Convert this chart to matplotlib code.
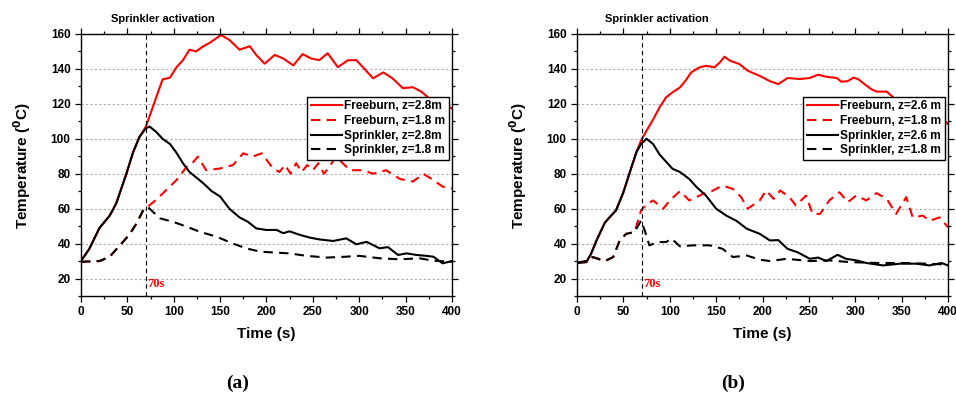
import matplotlib.pyplot as plt
from matplotlib.ticker import MultipleLocator

# ---- panel (a) data ----
a_fb_hi_t = [0, 9, 20, 31, 38, 49, 56, 63, 70, 80, 88, 96, 103, 110, 117, 124, 132, 139, 151, 160,
             171, 182, 189, 198, 209, 218, 229, 239, 248, 257, 266, 277, 288, 297, 304, 315, 326,
             336, 347, 358, 367, 376, 385, 393, 400]
a_fb_hi = [30, 37, 49, 56, 63, 80, 92, 101, 107, 122, 134, 135, 141, 145, 151, 150, 153, 155, 159.4, 156.6,
           151, 153, 148, 143, 148, 146, 142, 148.5, 146, 145, 149, 141, 145, 145, 141, 134.6, 138,
           134.6, 129, 129.5, 127, 123, 121, 119, 117.4]

a_fb_lo_t = [0, 20, 31, 42, 52, 60, 67, 74, 81, 92, 103, 114, 120, 126, 135, 150, 164, 175, 185, 195, 207,
             214, 220, 226, 232, 238, 244, 250, 256, 262, 268, 275, 290, 304, 315, 329, 344, 358, 369,
             380, 390, 400]
a_fb_lo = [29.6, 30, 32.5, 39, 45, 51.6, 59, 62, 65, 70.7, 76.4, 84, 86, 89.8, 82, 83, 85, 91.7, 89.8, 91.7, 83,
           81, 85, 80, 86, 81, 85, 82, 86, 80, 84, 89.8, 82, 82, 80, 82, 77, 75.5, 80,
           76.4, 72.6, 71.6]

a_sp_hi_t = [0, 9, 20, 31, 38, 49, 56, 63, 70, 74, 81, 88, 96, 103, 110, 117, 124, 132, 141, 150, 160,
             171, 180, 189, 200, 211, 218, 225, 236, 247, 257, 272, 286, 297, 308, 322, 331, 342, 351,
             362, 372, 380, 390, 400]
a_sp_hi = [30, 37, 49, 56, 63, 80, 92, 101, 106, 107, 104, 100, 97, 92, 86, 81, 78, 74.5, 70, 67, 60,
           55, 52.5, 48.7, 47.8, 47.8, 46, 47, 45, 43.4, 42.4, 41.5, 43, 39.6, 41, 37.3, 38, 33.5, 34.4,
           33.5, 33, 32.5, 28.7, 30]

a_sp_lo_t = [0, 20, 31, 42, 52, 60, 67, 72, 85, 99, 114, 128, 146, 164, 178, 193, 211, 225, 243, 265,
             286, 300, 322, 344, 365, 380, 400]
a_sp_lo = [29.6, 30, 32.5, 39, 45, 51.6, 59, 61, 54.5, 52.5, 49.7, 46.8, 44, 40, 37.3, 35.4, 34.8, 34.4, 33, 32,
           32.5, 33, 31.6, 31, 31.6, 30.2, 29.6]

# ---- panel (b) data ----
b_fb_hi_t = [0, 10, 15, 21, 30, 35, 42, 50, 57, 64, 69, 75, 82, 89, 96, 103, 111, 118, 123, 132, 139, 148,
             154, 159, 165, 175, 184, 197, 208, 217, 227, 240, 251, 260, 269, 280, 285, 292, 298, 303,
             310, 317, 323, 334, 341, 346, 360, 380, 395, 400]
b_fb_hi = [29, 29.4, 34, 41.8, 52, 55, 59, 69.4, 81, 92.3, 99, 104.7, 111, 118, 123.7, 126.6, 129.4, 134, 138,
           140.9, 141.8, 140.9, 143.7, 147, 144.7, 142.8, 139, 136, 133, 131.3, 134.8, 134.2, 134.8, 136.7,
           135.5, 134.8, 132.7, 133, 135, 134.2, 131.3, 128.5, 127, 127, 123.7, 121, 117, 113, 111, 108.5]

b_fb_lo_t = [0, 10, 17, 30, 39, 46, 53, 62, 69, 75, 82, 93, 100, 111, 121, 136, 143, 157, 168, 177, 184, 197,
             204, 212, 219, 229, 236, 247, 254, 262, 272, 283, 292, 301, 312, 323, 334, 344, 355, 362,
             373, 380, 391, 400]
b_fb_lo = [29, 30, 32.3, 30, 32.3, 41.8, 45.6, 46.6, 59, 62.4, 64.7, 60, 64.7, 70, 64.7, 68.5, 69.4, 73.2,
           71.3, 66.6, 60, 64.7, 70.4, 65.6, 70.4, 66.6, 61.8, 67.5, 57, 57, 64.7, 69.4, 63.7, 67.5, 64.7,
           68.9, 65.6, 57, 66.6, 55, 56, 53, 55, 49.4]

b_sp_hi_t = [0, 10, 15, 21, 30, 35, 42, 50, 57, 64, 69, 75, 82, 89, 95, 103, 111, 121, 129, 139, 150, 161,
             172, 183, 197, 208, 217, 227, 238, 251, 260, 269, 281, 290, 301, 312, 330, 348, 366, 380,
             393, 400]
b_sp_hi = [29, 29.4, 34, 41.8, 52, 55, 59, 69.4, 81, 92.3, 97, 100, 97, 91, 87.5, 82.8, 81, 77, 72.3, 67.5,
           60, 56, 53, 48.5, 45.6, 41.8, 42, 37, 35, 31.3, 32, 30, 33.6, 31.3, 30.4, 28.9, 27.5, 28.5,
           28.5, 27.5, 28.9, 27.5]

b_sp_lo_t = [0, 10, 17, 30, 39, 46, 53, 62, 69, 73, 78, 87, 96, 102, 111, 125, 143, 157, 168, 183, 197, 208,
             226, 251, 272, 294, 323, 351, 377, 400]
b_sp_lo = [29, 30, 32.3, 30, 32.3, 41.8, 45.6, 46.6, 53.2, 47.5, 39, 40.9, 40.9, 42.8, 38.4, 39, 39, 37,
           32.3, 33.2, 30.8, 30, 31.3, 30, 30.4, 29.4, 28.9, 28.9, 28.5, 28]

labels_a = ['Freeburn, z=2.8m', 'Freeburn, z=1.8 m', 'Sprinkler, z=2.8m', 'Sprinkler, z=1.8 m']
labels_b = ['Freeburn, z=2.6 m', 'Freeburn, z=1.8 m', 'Sprinkler, z=2.6 m', 'Sprinkler, z=1.8 m']

plt.rcParams['font.family'] = ['Liberation Sans', 'DejaVu Sans']
plt.rcParams['font.weight'] = 'bold'

fig = plt.figure(figsize=(9.56, 3.97), dpi=100)
ax_a = fig.add_axes([0.0847, 0.2544, 0.388, 0.66])
ax_b = fig.add_axes([0.6036, 0.2544, 0.388, 0.66])

panels = [
    (ax_a, [(a_fb_hi_t, a_fb_hi), (a_fb_lo_t, a_fb_lo), (a_sp_hi_t, a_sp_hi), (a_sp_lo_t, a_sp_lo)],
     labels_a, 88, '(a)', 0.248),
    (ax_b, [(b_fb_hi_t, b_fb_hi), (b_fb_lo_t, b_fb_lo), (b_sp_hi_t, b_sp_hi), (b_sp_lo_t, b_sp_lo)],
     labels_b, 86, '(b)', 0.767),
]
styles = [('red', '-'), ('red', '--'), ('black', '-'), ('black', '--')]

for ax, series, labels, title_x, tag, tag_x in panels:
    for (t, y), (c, ls), lab in zip(series, styles, labels):
        line, = ax.plot(t, y, color=c, lw=1.5, label=lab, linestyle=ls)
        if ls == '--':
            line.set_dashes((4.5, 3))
    ax.axvline(70, color='black', lw=0.8, linestyle=(0, (4, 3)))
    ax.set_xlim(0, 400)
    ax.set_ylim(10, 160)
    ax.xaxis.set_major_locator(MultipleLocator(50))
    ax.xaxis.set_minor_locator(MultipleLocator(25))
    ax.yaxis.set_major_locator(MultipleLocator(20))
    ax.yaxis.set_minor_locator(MultipleLocator(10))
    ax.set_yticks(range(20, 161, 20))
    ax.tick_params(which='both', direction='out', top=True, right=True, labelsize=8.5, width=0.9)
    ax.tick_params(which='major', length=4)
    ax.tick_params(which='minor', length=2.5)
    for lab in ax.get_xticklabels() + ax.get_yticklabels():
        lab.set_fontweight('bold')
    ax.grid(axis='y', which='major', color='#aaaaaa', lw=0.8, linestyle=(0, (2, 2)))
    for s in ax.spines.values():
        s.set_linewidth(1.0)
    ax.set_xlabel('Time (s)', fontsize=11, fontweight='bold', labelpad=6)
    ax.set_ylabel('Temperature ($\\mathbf{^0}$C)', fontsize=11, fontweight='bold', labelpad=13)
    ax.text(title_x, 168.5, 'Sprinkler activation', fontsize=8, fontweight='bold',
            ha='center', va='center', clip_on=False)
    ax.text(71.5, 17, '70s', color='red', fontsize=9, fontweight='bold',
            family='Liberation Serif', va='center')
    leg = ax.legend(loc='upper right', bbox_to_anchor=(0.992, 0.76), fontsize=8.6,
                    frameon=True, fancybox=False, framealpha=1, edgecolor='black',
                    handlelength=2.6, handletextpad=0.2, borderpad=0.3, labelspacing=0.22,
                    borderaxespad=0)
    leg.get_frame().set_linewidth(1.0)
    for txt in leg.get_texts():
        txt.set_fontweight('bold')
    fig.text(tag_x, 0.035, tag, fontsize=14, family='Liberation Serif', fontweight='bold',
             ha='center', va='center')

fig.savefig('out.png', dpi=100)
